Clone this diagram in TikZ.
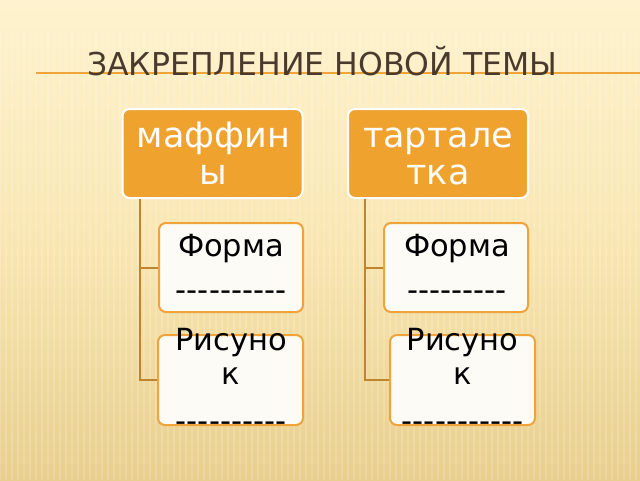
\documentclass[tikz,border=0pt]{standalone}
\usepackage{fontspec}
\setmainfont{DejaVu Sans}[Ligatures=TeXOff]
\usetikzlibrary{calc}
\definecolor{bgtop}{HTML}{FEF3CE}
\definecolor{bgmid}{HTML}{F9E6B2}
\definecolor{bgbot}{HTML}{E8CF8E}
\definecolor{hdr}{HTML}{F0A22E}
\definecolor{edgeor}{HTML}{F0A33A}
\definecolor{conn}{HTML}{C0842E}
\definecolor{ttl}{HTML}{4A3A2E}
\definecolor{boxfill}{HTML}{FDFBF6}
\definecolor{rule}{HTML}{EFA53A}
\begin{document}
\begin{tikzpicture}[x=1pt,y=-1pt,
  hdrbox/.style={draw=white, line width=2pt, fill=hdr, rounded corners=7pt, minimum width=180pt, minimum height=89pt, inner sep=0pt},
  subbox/.style={draw=edgeor, line width=2pt, fill=boxfill, rounded corners=7pt, minimum width=144pt, minimum height=89pt, inner sep=0pt},
  hdrtxt/.style={text=white, font=\fontsize{35}{37}\selectfont, inner sep=0pt, anchor=base},
  subtxt/.style={text=black, font=\fontsize{30.5}{34}\selectfont, inner sep=0pt, anchor=base},
  connline/.style={draw=conn, line width=2pt},
  stripe/.style={draw=white, line width=2pt, opacity=0.16}]
\useasboundingbox (0,0) rectangle (640,480);
\shade[top color=bgtop, bottom color=bgbot, middle color=bgmid] (0,0) rectangle (640,480);
\foreach \i in {0,6,...,640} {
  \draw[stripe] (\i,32) -- (\i,480);
}
% title
\draw[draw=rule, line width=1.6pt] (36,73) -- (640,73);
\node[text=ttl, font=\fontsize{31.5}{34}\selectfont, inner sep=0pt, anchor=base west] (title) at (87,75) {ЗАКРЕПЛЕНИЕ НОВОЙ ТЕМЫ};
% boxes
\node[hdrbox] (lh) at (212.5,153.5) {};
\node[hdrbox] (rh) at (438,153.5) {};
\node[subbox] (lf) at (231,267.5) {};
\node[subbox] (rf) at (456,267.5) {};
\node[subbox, minimum width=145pt, minimum height=90pt] (lr) at (230.5,380) {};
\node[subbox, minimum width=145pt, minimum height=90pt] (rr) at (462.5,380) {};
% connectors
\draw[connline] ([xshift=18pt]lh.south west) |- (lf.west);
\draw[connline] ([xshift=18pt]lh.south west) |- (lr.west);
\draw[connline] ([xshift=18pt]rh.south west) |- (rf.west);
\draw[connline] ([xshift=18pt]rh.south west) |- (rr.west);
% texts
\node[hdrtxt] (lht) at (213.5,147) {\begin{tabular}[t]{@{}c@{}}маффин\\ы\end{tabular}};
\node[hdrtxt] (rht) at (438,147) {\begin{tabular}[t]{@{}c@{}}тартале\\тка\end{tabular}};
\node[subtxt] (lft) at (231,256) {\begin{tabular}[t]{@{}c@{}}Форма\\[10pt]----------\end{tabular}};
\node[subtxt] (rft) at (457,256) {\begin{tabular}[t]{@{}c@{}}Форма\\[10pt]---------\end{tabular}};
\node[subtxt] (lrt) at (231,350) {\begin{tabular}[t]{@{}c@{}}Рисуно\\к\\[13pt]----------\end{tabular}};
\node[subtxt] (rrt) at (462.5,350) {\begin{tabular}[t]{@{}c@{}}Рисуно\\к\\[13pt]-----------\end{tabular}};
\end{tikzpicture}
\end{document}
